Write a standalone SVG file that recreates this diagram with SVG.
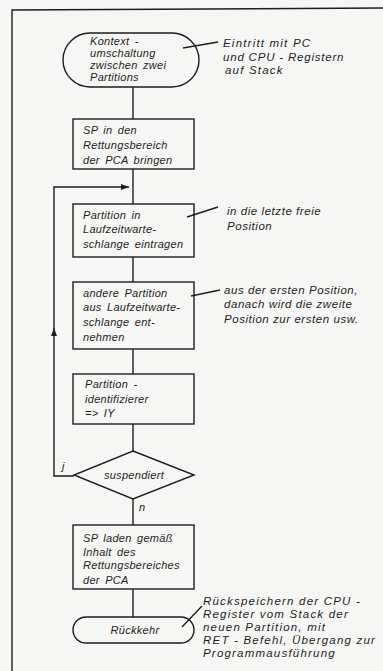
<svg xmlns="http://www.w3.org/2000/svg" width="383" height="671" viewBox="0 0 383 671">
<style>
.s{fill:none;stroke:#1e1e1e;stroke-width:1.4}
.t{font-family:"Liberation Sans",Arial,sans-serif;font-style:italic;font-size:11px;fill:#1e1e1e;letter-spacing:0.3px;word-spacing:2px}
.a{font-family:"Liberation Sans",Arial,sans-serif;font-style:italic;font-size:11.5px;fill:#1e1e1e;letter-spacing:1.2px}
.n{letter-spacing:0.55px}
.c{text-anchor:middle}
</style>
<defs>
<marker id="ah" markerWidth="8" markerHeight="6" refX="8" refY="3" orient="auto" markerUnits="userSpaceOnUse">
<path d="M0,0 L8,3 L0,6 Z" fill="#1e1e1e"/>
</marker>
</defs>
<rect width="383" height="671" fill="#f6f6f4"/>
<g id="frame">
<path class="s" d="M12,671 L12,10 L383,8"/>
</g>
<g id="connectors">
<path class="s" d="M133,87 V119"/>
<path class="s" d="M133,169 V204"/>
<path class="s" d="M133,257 V282"/>
<path class="s" d="M133,349 V374"/>
<path class="s" d="M133,424 V451"/>
<path class="s" d="M133,499 V525"/>
<path class="s" d="M133,589 V617"/>
<path class="s" d="M74,476 H54 V328" marker-end="url(#ah)"/>
<path class="s" d="M54,330 V187 H129" marker-end="url(#ah)"/>
<text class="t" x="62" y="470">j</text>
<text class="t" x="139" y="511">n</text>
</g>
<g id="start">
<rect class="s" x="63" y="33" width="136" height="54" rx="27"/>
<text class="t" x="90" y="45">Kontext -</text>
<text class="t" x="90" y="57">umschaltung</text>
<text class="t" x="90" y="69">zwischen zwei</text>
<text class="t" x="90" y="81">Partitions</text>
</g>
<g id="note1">
<path class="s" d="M183,48 L218,42" stroke-width="1"/>
<text class="a" x="223" y="47">Eintritt mit PC</text>
<text class="a" x="223" y="61" style="letter-spacing:0.8px">und CPU - Registern</text>
<text class="a" x="225" y="74">auf Stack</text>
</g>
<g id="box1">
<rect class="s" x="73" y="119" width="121" height="50"/>
<text class="t" x="83" y="134">SP in den</text>
<text class="t" x="83" y="149">Rettungsbereich</text>
<text class="t" x="83" y="164">der PCA bringen</text>
</g>
<g id="box2">
<rect class="s" x="73" y="204" width="121" height="53"/>
<text class="t" x="83" y="219">Partition  in</text>
<text class="t" x="83" y="233">Laufzeitwarte-</text>
<text class="t" x="83" y="248">schlange eintragen</text>
</g>
<g id="note2">
<path class="s" d="M187,217 L218,207" stroke-width="1"/>
<text class="a n" x="227" y="215">in die letzte freie</text>
<text class="a n" x="227" y="230">Position</text>
</g>
<g id="box3">
<rect class="s" x="73" y="282" width="121" height="67"/>
<text class="t" x="83" y="297">andere Partition</text>
<text class="t" x="83" y="311">aus Laufzeitwarte-</text>
<text class="t" x="83" y="326">schlange ent-</text>
<text class="t" x="83" y="341">nehmen</text>
</g>
<g id="note3">
<path class="s" d="M191,296 L220,290" stroke-width="1"/>
<text class="a n" x="224" y="294">aus der ersten Position,</text>
<text class="a n" x="224" y="308">danach wird die zweite</text>
<text class="a n" x="224" y="323">Position zur ersten usw.</text>
</g>
<g id="box4">
<rect class="s" x="73" y="374" width="121" height="50"/>
<text class="t" x="85" y="388">Partition -</text>
<text class="t" x="85" y="403">identifizierer</text>
<text class="t" x="85" y="417">=&gt; IY</text>
</g>
<g id="decision">
<path class="s" d="M133,451 L194,475 L133,499 L74,475 Z"/>
<text class="t c" x="134" y="479">suspendiert</text>
</g>
<g id="box5">
<rect class="s" x="73" y="525" width="121" height="64"/>
<text class="t" x="83" y="542">SP laden gemäß</text>
<text class="t" x="83" y="556">Inhalt des</text>
<text class="t" x="83" y="569">Rettungsbereiches</text>
<text class="t" x="83" y="584">der PCA</text>
</g>
<g id="end">
<rect class="s" x="73" y="617" width="121" height="26" rx="13"/>
<text class="t c" x="135" y="634">Rückkehr</text>
</g>
<g id="note4">
<path class="s" d="M182,627 L202,606" stroke-width="1"/>
<text class="a" x="203" y="605">Rückspeichern der CPU -</text>
<text class="a" x="203" y="618">Register vom Stack der</text>
<text class="a" x="203" y="631">neuen Partition, mit</text>
<text class="a" x="203" y="644">RET - Befehl, Übergang zur</text>
<text class="a" x="203" y="657">Programmausführung</text>
</g>
</svg>
